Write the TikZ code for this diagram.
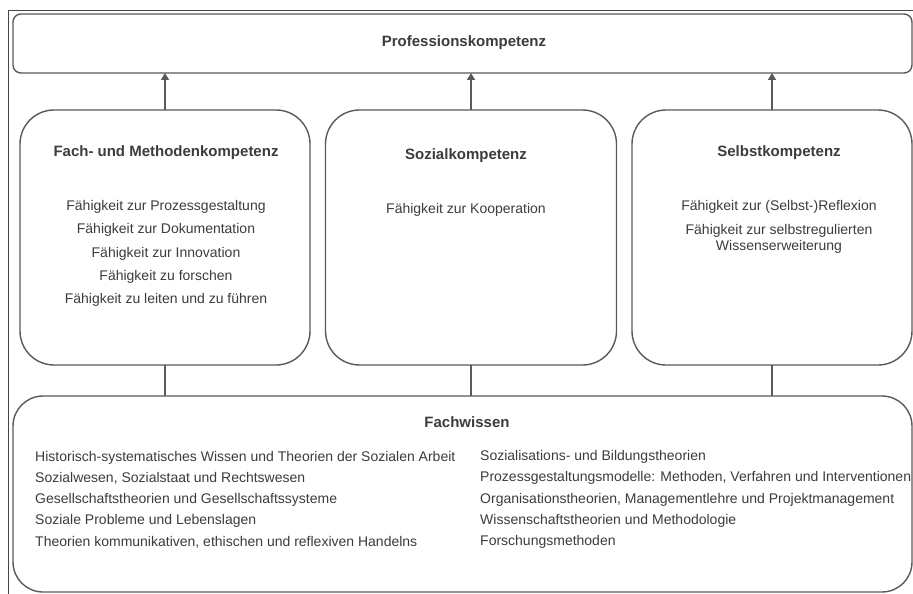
\documentclass[tikz,border=0pt]{standalone}
\usepackage{fontspec}
\setmainfont{Liberation Sans}
\usetikzlibrary{arrows.meta}
\definecolor{linecol}{RGB}{95,88,88}
\definecolor{txtcol}{RGB}{60,60,60}
\definecolor{framecol}{RGB}{70,70,70}
\begin{document}
\begin{tikzpicture}[x=1pt,y=-1pt,
  box/.style={draw=linecol, line width=1.4pt, inner sep=0pt, outer sep=0pt, rectangle, fill=white},
  title/.style={text=txtcol, font=\fontsize{15}{18}\selectfont\bfseries, inner sep=0pt},
  item/.style={text=txtcol, font=\fontsize{14}{16}\selectfont, inner sep=0pt},
  arr/.style={draw=linecol, line width=1.4pt, -{Triangle[length=7pt,width=8pt]}},
  link/.style={draw=linecol, line width=1.4pt}]
\useasboundingbox (0,0) rectangle (913,594);
\fill[white] (0,0) rectangle (913,594);
% outer frame
\draw[draw=framecol, line width=0.9pt] (8,594) -- (8,10) -- (913,10);

% boxes
\node[box, rounded corners=8pt, minimum width=899pt, minimum height=59pt] (prof) at (462.5,43.5) {};
\node[title] (proft) at (464,43) {Professionskompetenz};

\node[box, rounded corners=34pt, minimum width=290pt, minimum height=255pt] (m1) at (165,237.5) {};
\node[box, rounded corners=34pt, minimum width=291pt, minimum height=255pt] (m2) at (471,237.5) {};
\node[box, rounded corners=34pt, minimum width=280pt, minimum height=255pt] (m3) at (772,237.5) {};

\node[box, rounded corners=30pt, minimum width=899pt, minimum height=196pt] (fw) at (462.5,494) {};

% connectors
\draw[arr] (m1.north) -- (m1.north |- prof.south);
\draw[arr] (m2.north) -- (m2.north |- prof.south);
\draw[arr] (m3.north) -- (m3.north |- prof.south);
\draw[link] (m1.south) -- (m1.south |- fw.north);
\draw[link] (m2.south) -- (m2.south |- fw.north);
\draw[link] (m3.south) -- (m3.south |- fw.north);

% box 1
\node[title] (t1) at (166,153) {Fach- und Methodenkompetenz};
\node[item, align=center, font=\fontsize{14}{23.3}\selectfont] (i1) at (166,253.5) {F\"ahigkeit zur Prozessgestaltung\\F\"ahigkeit zur Dokumentation\\F\"ahigkeit zur Innovation\\F\"ahigkeit zu forschen\\F\"ahigkeit zu leiten und zu f\"uhren};

% box 2
\node[title] (t2) at (466,156) {Sozialkompetenz};
\node[item] (i2) at (466,210) {F\"ahigkeit zur Kooperation};

% box 3
\node[title] (t3) at (779,153) {Selbstkompetenz};
\node[item] (i3a) at (779,207) {F\"ahigkeit zur (Selbst-)Reflexion};
\node[item, align=center] (i3b) at (779,239) {F\"ahigkeit zur selbstregulierten\\Wissenserweiterung};

% Fachwissen
\node[title] (t4) at (467,422) {Fachwissen};
\node[item, anchor=west, align=left, font=\fontsize{14}{21.25}\selectfont] (fl) at (35,499.5) {Historisch-systematisches Wissen und Theorien der Sozialen Arbeit\\Sozialwesen, Sozialstaat und Rechtswesen\\Gesellschaftstheorien und Gesellschaftssysteme\\Soziale Probleme und Lebenslagen\\Theorien kommunikativen, ethischen und reflexiven Handelns};
\node[item, anchor=west, align=left, font=\fontsize{14}{21.25}\selectfont] (fr) at (480,499.5) {Sozialisations- und Bildungstheorien\\Prozessgestaltungsmodelle: Methoden, Verfahren und Interventionen\\Organisationstheorien, Managementlehre und Projektmanagement\\Wissenschaftstheorien und Methodologie\\Forschungsmethoden};
\end{tikzpicture}
\end{document}
